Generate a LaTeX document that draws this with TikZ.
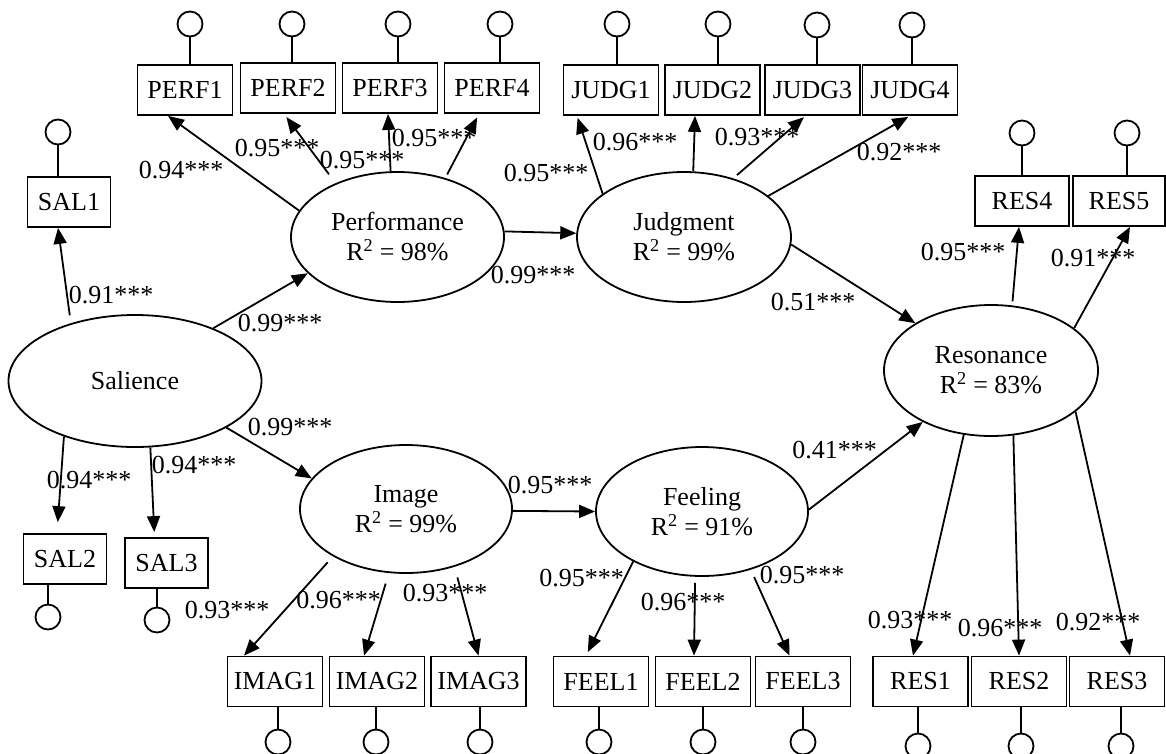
\documentclass[tikz,border=0pt]{standalone}
\usepackage{fontspec}
\setmainfont{Liberation Serif}
\usetikzlibrary{shapes.geometric,arrows.meta}
\begin{document}
\begin{tikzpicture}[x=1pt,y=-1pt,line width=1.8pt,
  font=\fontsize{26}{30}\selectfont,
  lat/.style={ellipse,draw,inner sep=0pt,align=center},
  obs/.style={rectangle,draw,minimum width=95pt,minimum height=50pt,inner sep=0pt},
  err/.style={circle,draw,minimum size=25pt,inner sep=0pt},
  lab/.style={inner sep=0pt,text height=17.5pt,text depth=0pt},
  arr/.style={-{Triangle[length=16pt,width=13pt]}}]
\useasboundingbox (0,0) rectangle (1166,753);
% latent variables
\node[lat,minimum width=253pt,minimum height=132pt] (sal) at (135,381) {Salience};
\node[lat,minimum width=213pt,minimum height=130pt] (perf) at (397.5,237) {Performance\\R\textsuperscript{2} = 98\%};
\node[lat,minimum width=214pt,minimum height=130pt] (judg) at (684,237) {Judgment\\R\textsuperscript{2} = 99\%};
\node[lat,minimum width=212pt,minimum height=128pt] (img) at (406,509) {Image\\R\textsuperscript{2} = 99\%};
\node[lat,minimum width=212pt,minimum height=129pt] (feel) at (702,511.5) {Feeling\\R\textsuperscript{2} = 91\%};
\node[lat,minimum width=214pt,minimum height=131pt] (res) at (991,370.5) {Resonance\\R\textsuperscript{2} = 83\%};
% observed variables
\node[obs,minimum width=83pt] (sal1) at (69,202) {SAL1};
\node[obs,minimum width=83pt] (sal2) at (65,559) {SAL2};
\node[obs,minimum width=83pt] (sal3) at (166.5,563) {SAL3};
\node[obs] (perf1) at (185,90) {PERF1};
\node[obs] (perf2) at (288,88) {PERF2};
\node[obs] (perf3) at (390,88) {PERF3};
\node[obs] (perf4) at (492,88) {PERF4};
\node[obs] (judg1) at (611,90) {JUDG1};
\node[obs] (judg2) at (712.5,90) {JUDG2};
\node[obs] (judg3) at (812.5,90) {JUDG3};
\node[obs] (judg4) at (910,90) {JUDG4};
\node[obs,minimum width=94pt] (res4) at (1022,201) {RES4};
\node[obs,minimum width=92pt] (res5) at (1119,201) {RES5};
\node[obs] (imag1) at (275,681.5) {IMAG1};
\node[obs] (imag2) at (377,681.5) {IMAG2};
\node[obs] (imag3) at (478.5,681.5) {IMAG3};
\node[obs] (feel1) at (601,681.5) {FEEL1};
\node[obs] (feel2) at (703,681.5) {FEEL2};
\node[obs] (feel3) at (803,681.5) {FEEL3};
\node[obs] (res1) at (920.5,681.5) {RES1};
\node[obs] (res2) at (1019,681.5) {RES2};
\node[obs] (res3) at (1117,681.5) {RES3};
% error terms
\node[err] (esal1) at (58,132) {};
\node[err] (esal2) at (48,617) {};
\node[err] (esal3) at (157,620) {};
\node[err] (eperf1) at (190,24) {};
\node[err] (eperf2) at (292,24) {};
\node[err] (eperf3) at (398,24) {};
\node[err] (eperf4) at (500,24) {};
\node[err] (ejudg1) at (617,24) {};
\node[err] (ejudg2) at (718,24) {};
\node[err] (ejudg3) at (817,25) {};
\node[err] (ejudg4) at (912,25) {};
\node[err] (eres4) at (1022,133) {};
\node[err] (eres5) at (1127,133) {};
\node[err] (eimag1) at (278,742) {};
\node[err] (eimag2) at (376,742) {};
\node[err] (eimag3) at (480,742) {};
\node[err] (efeel1) at (599,742) {};
\node[err] (efeel2) at (703,742) {};
\node[err] (efeel3) at (803,742) {};
\node[err] (eres1) at (918,746) {};
\node[err] (eres2) at (1021,746) {};
\node[err] (eres3) at (1121,746) {};
\foreach \e/\b in {esal1/sal1,eperf1/perf1,eperf2/perf2,eperf3/perf3,eperf4/perf4,ejudg1/judg1,ejudg2/judg2,ejudg3/judg3,ejudg4/judg4,eres4/res4,eres5/res5}
  \draw (\e) -- (\e |- \b.north);
\foreach \e/\b in {esal2/sal2,esal3/sal3,eimag1/imag1,eimag2/imag2,eimag3/imag3,efeel1/feel1,efeel2/feel2,efeel3/feel3,eres1/res1,eres2/res2,eres3/res3}
  \draw (\e) -- (\e |- \b.south);
% structural paths
\draw[arr,shorten <=8pt] (sal.138) -- ([xshift=-11pt]sal1.south);
\draw[arr,shorten >=11pt] (sal.218) -- ([xshift=-8pt]sal2.north);
\draw[arr,shorten >=5pt] (sal.283) -- ([xshift=-12pt]sal3.north);
\draw[arr] (sal.34) -- (perf.202);
\draw[arr] (sal.-27) -- (img.162);
\draw[arr] (perf.165) -- ([xshift=-17pt]perf1.south);
\draw[arr,shorten <=11pt,shorten >=4pt] (perf.139) -- ([xshift=-4pt]perf2.south);
\draw[arr] (perf.96) -- ([xshift=-2pt]perf3.south);
\draw[arr,shorten <=4pt,shorten >=4pt] (perf.51) -- ([xshift=-13pt]perf4.south);
\draw[arr] (perf.3) -- (judg.178);
\draw[arr,shorten >=2pt] (judg.152) -- ([xshift=-34pt]judg1.south);
\draw[arr] (judg.82) -- ([xshift=-17.5pt]judg2.south);
\draw[arr,shorten <=5pt,shorten >=2pt] (judg.50) -- ([xshift=-7pt]judg3.south);
\draw[arr,shorten >=2pt] (judg.26) -- (judg4.south);
\draw[arr] (judg.-4) -- (res.148);
\draw[arr,shorten <=4pt] (res.72) -- ([xshift=-3pt]res4.south);
\draw[arr] (res.27) -- ([xshift=11pt]res5.south);
\draw[arr] (res.247) -- ([xshift=-7.5pt]res1.north);
\draw[arr] (res.289) -- (res2.north);
\draw[arr] (res.334) -- ([xshift=13pt]res3.north);
\draw[arr] (img.-1) -- (feel.180);
\draw[arr,shorten <=8pt] (img.213) -- ([xshift=-31pt]imag1.north);
\draw[arr,shorten <=11pt] (img.255) -- ([xshift=-13pt]imag2.north);
\draw[arr,shorten <=11pt] (img.310) -- (imag3.north);
\draw[arr] (feel.1) -- (res.217);
\draw[arr,shorten >=4pt] (feel.216) -- ([xshift=-15pt]feel1.north);
\draw[arr,shorten <=6pt] (feel.264) -- ([xshift=-9pt]feel2.north);
\draw[arr,shorten <=8pt] (feel.310) -- ([xshift=-13.5pt]feel3.north);
% coefficients
\node[lab] (l1) at (111,295) {0.91***};
\node[lab] (l2) at (280,323) {0.99***};
\node[lab] (l3) at (290,427) {0.99***};
\node[lab] (l4) at (89,480) {0.94***};
\node[lab] (l5) at (194,465) {0.94***};
\node[lab] (l6) at (181,170) {0.94***};
\node[lab] (l7) at (277,148) {0.95***};
\node[lab] (l8) at (362,160) {0.95***};
\node[lab] (l9) at (434,138) {0.95***};
\node[lab] (l10) at (546,173) {0.95***};
\node[lab] (l11) at (533,275) {0.99***};
\node[lab] (l12) at (635,142) {0.96***};
\node[lab] (l13) at (757,137) {0.93***};
\node[lab] (l14) at (899,152) {0.92***};
\node[lab] (l15) at (813,302) {0.51***};
\node[lab] (l16) at (963,252) {0.95***};
\node[lab] (l17) at (1093,258) {0.91***};
\node[lab] (l18) at (550,485) {0.95***};
\node[lab] (l19) at (227,610) {0.93***};
\node[lab] (l20) at (338.5,600) {0.96***};
\node[lab] (l21) at (445,593) {0.93***};
\node[lab] (l22) at (834.5,450) {0.41***};
\node[lab] (l23) at (581.5,578) {0.95***};
\node[lab] (l24) at (683,602) {0.96***};
\node[lab] (l25) at (802,575) {0.95***};
\node[lab] (l26) at (910,620) {0.93***};
\node[lab] (l27) at (1000,628) {0.96***};
\node[lab] (l28) at (1098,622) {0.92***};
\end{tikzpicture}
\end{document}
